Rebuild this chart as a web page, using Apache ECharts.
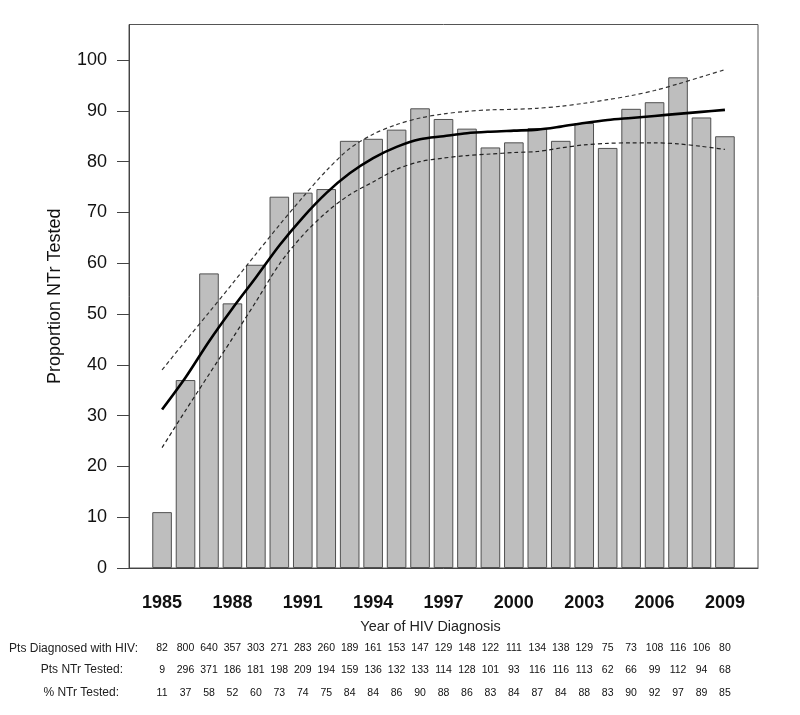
<!DOCTYPE html>
<html>
<head>
<meta charset="utf-8">
<script src="https://cdn.jsdelivr.net/npm/echarts@6/dist/echarts.min.js"></script>
<style>html,body{margin:0;padding:0;background:#fff}#c{width:800px;height:715px}</style>
</head>
<body>
<div id="c"></div>
<script>
const years = [1985,1986,1987,1988,1989,1990,1991,1992,1993,1994,1995,1996,1997,1998,1999,2000,2001,2002,2003,2004,2005,2006,2007,2008,2009];
const xTickYears = [1985,1988,1991,1994,1997,2000,2003,2006,2009];
const yTicks = [0,10,20,30,40,50,60,70,80,90,100];
const pctBars = [11.0,37.0,58.0,52.1,59.7,73.1,73.9,74.6,84.1,84.5,86.3,90.5,88.4,86.5,82.8,83.8,86.6,84.1,87.6,82.7,90.4,91.7,96.6,88.7,85.0];
const fitMid = [31.2,37.5,44.6,51.1,57.2,63.5,69.0,73.8,77.7,80.7,82.9,84.4,85.0,85.6,85.9,86.1,86.3,86.9,87.6,88.2,88.6,89.0,89.4,89.8,90.2];
const fitUpper = [39.0,44.7,50.3,56.0,61.8,67.5,73.0,78.2,82.6,85.4,87.3,88.6,89.4,89.9,90.2,90.3,90.5,90.9,91.5,92.2,93.0,94.0,95.3,96.7,98.1];
const fitLower = [23.7,31.0,38.1,45.2,52.4,59.8,65.5,70.0,73.5,76.0,78.5,80.0,80.7,81.2,81.5,81.8,82.0,82.7,83.3,83.6,83.7,83.7,83.5,83.0,82.4];
const diagnosed = [82,800,640,357,303,271,283,260,189,161,153,147,129,148,122,111,134,138,129,75,73,108,116,106,80];
const ntrTested = [9,296,371,186,181,198,209,194,159,136,132,133,114,128,101,93,116,116,113,62,66,99,112,94,68];
const pctLabels = [11,37,58,52,60,73,74,75,84,84,86,90,88,86,83,84,87,84,88,83,90,92,97,89,85];
const rowLabels = ['Pts Diagnosed with HIV:','Pts NTr Tested:','% NTr Tested:'];

const FONT = '"Liberation Sans", Arial, Helvetica, sans-serif';
const XMIN = 1983.59, XMAX = 2010.41;
const pair = arr => years.map((y,i)=>[y, arr[i]]);

function rowAxis(arr, margin){
  return {
    type:'value', gridIndex:0, position:'bottom', min:XMIN, max:XMAX,
    axisLine:{show:false}, axisTick:{show:false}, splitLine:{show:false},
    axisLabel:{
      customValues: years, margin: margin, fontSize:10.5, lineHeight:12,
      fontFamily: FONT, color:'#111',
      formatter: v => String(arr[years.indexOf(Math.round(v))])
    }
  };
}

const chart = echarts.init(document.getElementById('c'), null, {renderer:'canvas'});
chart.setOption({
  animation:false,
  backgroundColor:'#fff',
  grid:{left:129, right:42, top:24.5, bottom:147, show:true, borderColor:'#555', borderWidth:1, backgroundColor:'transparent'},
  xAxis:[
    {
      type:'value', min:XMIN, max:XMAX, position:'bottom',
      axisLine:{show:true, onZero:false, lineStyle:{color:'#444', width:1}},
      axisTick:{show:false}, splitLine:{show:false},
      axisLabel:{customValues:xTickYears, formatter: v => String(Math.round(v)), fontSize:18, fontWeight:'bold', lineHeight:18, margin:26, color:'#111', fontFamily:FONT}
    },
    rowAxis(diagnosed, 74.3),
    rowAxis(ntrTested, 96),
    rowAxis(pctLabels, 118.7)
  ],
  yAxis:{
    type:'value', min:0, max:107,
    name:'Proportion NTr Tested', nameLocation:'middle', nameGap:65, nameRotate:90,
    nameTextStyle:{fontSize:18, lineHeight:18, color:'#111', fontFamily:FONT},
    axisLine:{show:true, lineStyle:{color:'#444', width:1}},
    axisTick:{show:true, customValues:yTicks, length:12, lineStyle:{color:'#444', width:1}},
    splitLine:{show:false},
    axisLabel:{customValues:yTicks, fontSize:18, margin:22, color:'#111', fontFamily:FONT}
  },
  series:[
    {
      type:'bar', xAxisIndex:0, data:pair(pctBars), barWidth:19.6,
      itemStyle:{color:'#bebebe', borderColor:'#505050', borderWidth:1}, z:2
    },
    {
      type:'line', xAxisIndex:0, data:pair(fitMid), smooth:0.3, showSymbol:false, symbol:'none',
      lineStyle:{color:'#000', width:2.6}, z:5
    },
    {
      type:'line', xAxisIndex:0, data:pair(fitUpper), smooth:0.3, showSymbol:false, symbol:'none',
      lineStyle:{color:'#333', width:1.2, type:[4,3]}, z:4
    },
    {
      type:'line', xAxisIndex:0, data:pair(fitLower), smooth:0.3, showSymbol:false, symbol:'none',
      lineStyle:{color:'#222', width:1.2, type:[4,3]}, z:4
    }
  ],
  graphic:[
    {type:'text', x:430.5, y:627, style:{text:'Year of HIV Diagnosis', font:'14.4px '+FONT, fill:'#222', textAlign:'center', textVerticalAlign:'middle', verticalAlign:'middle'}},
    {type:'text', x:138, y:648.3, style:{text:rowLabels[0], font:'12px '+FONT, fill:'#222', textAlign:'right', textVerticalAlign:'middle', verticalAlign:'middle'}},
    {type:'text', x:123, y:670, style:{text:rowLabels[1], font:'12px '+FONT, fill:'#222', textAlign:'right', textVerticalAlign:'middle', verticalAlign:'middle'}},
    {type:'text', x:119, y:692.7, style:{text:rowLabels[2], font:'12px '+FONT, fill:'#222', textAlign:'right', textVerticalAlign:'middle', verticalAlign:'middle'}}
  ]
});
</script>
</body>
</html>
